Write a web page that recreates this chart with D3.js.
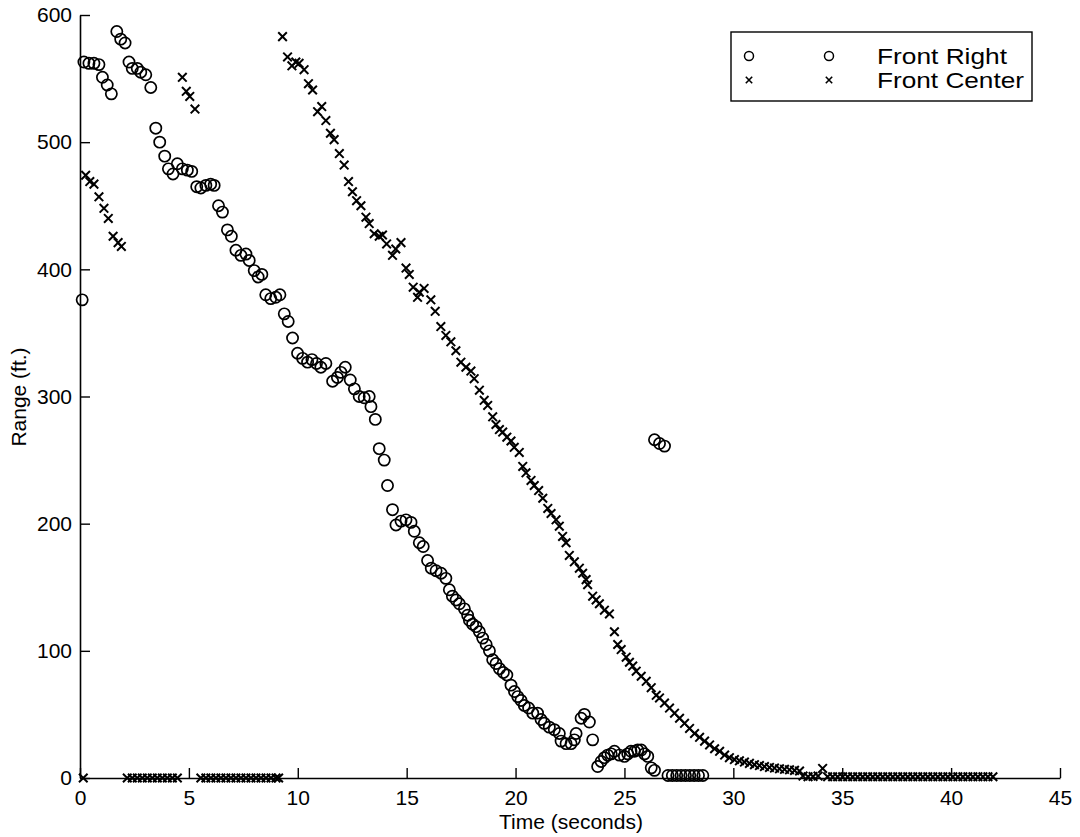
<!DOCTYPE html>
<html>
<head>
<meta charset="utf-8">
<script src="https://cdn.jsdelivr.net/npm/d3@7"></script>
<style>
  html, body { margin: 0; padding: 0; background: #fff; }
  svg { display: block; }
  text { font-family: "Liberation Sans", Arial, Helvetica, sans-serif; fill: #000; }
</style>
</head>
<body>
<svg id="chart" width="1080" height="837"></svg>
<script>
// ---------- data ----------
const seriesNames = ["Front Right", "Front Center"];

const frontRightTime = [
  0.1, 0.18, 0.41, 0.64, 0.87, 1.03, 1.25, 1.44, 1.69, 1.87, 2.07, 2.25, 2.4, 2.63, 2.79, 3.02, 3.25,
  3.48, 3.66, 3.89, 4.06, 4.27, 4.47, 4.7, 4.93, 5.13, 5.36, 5.55, 5.78, 6.0, 6.16, 6.36, 6.54,
  6.77, 6.95, 7.16, 7.39, 7.62, 7.77, 8.0, 8.18, 8.35, 8.53, 8.76, 8.99, 9.18, 9.38, 9.56, 9.76,
  9.99, 10.22, 10.45, 10.65, 10.86, 11.06, 11.29, 11.6, 11.82, 11.98, 12.18, 12.41, 12.6, 12.82,
  13.05, 13.28, 13.36, 13.56, 13.74, 13.97, 14.12, 14.35, 14.51, 14.74, 14.97, 15.2, 15.35, 15.58,
  15.76, 15.96, 16.13, 16.35, 16.58, 16.8, 16.96, 17.1, 17.27, 17.42, 17.65, 17.8, 17.88, 18.03,
  18.19, 18.34, 18.49, 18.65, 18.8, 18.95, 19.1, 19.26, 19.44, 19.6, 19.79, 19.95, 20.1, 20.25,
  20.4, 20.6, 20.79, 21.01, 21.17, 21.32, 21.55, 21.78, 22.01, 22.09, 22.32, 22.55, 22.7, 22.78,
  23.01, 23.16, 23.39, 23.54, 23.77, 23.93, 24.08, 24.23, 24.39, 24.54, 24.77, 25.0, 25.15, 25.3,
  25.46, 25.61, 25.77, 25.92, 26.07, 26.23, 26.38, 26.38, 26.61, 26.84,
  27.0, 27.2, 27.4, 27.6, 27.8, 28.0, 28.2, 28.4, 28.6
];
const frontRightRange = [
  376, 563, 562, 562, 561, 551, 545, 538, 587, 581, 578, 563, 558, 558, 555, 553, 543,
  511, 500, 489, 479, 475, 483, 479, 478, 477, 465, 464, 466, 467, 466, 450, 445,
  431, 426, 415, 411, 412, 407, 399, 394, 396, 380, 377, 378, 380, 365, 359, 346,
  334, 330, 327, 329, 326, 323, 326, 312, 315, 319, 323, 313, 306, 300,
  299, 300, 292, 282, 259, 250, 230, 211, 199, 202, 203, 201, 194, 185,
  182, 171, 165, 163, 161, 157, 148, 143, 140, 137, 133, 128, 124, 121,
  119, 115, 110, 105, 100, 93, 90, 86, 83, 81, 73, 68, 64, 61,
  57, 55, 51, 51, 46, 43, 40, 38, 35, 29, 27, 27, 30, 35,
  47, 50, 44, 30, 9, 13, 16, 18, 19, 21, 18, 17, 19, 21,
  21, 22, 22, 19, 17, 8, 6, 266, 263, 261,
  2, 2, 2, 2, 2, 2, 2, 2, 2
];

const frontCenterTime = [
  0.15, 0.26, 0.45, 0.64, 0.87, 1.1, 1.3, 1.52, 1.75, 1.9,
  2.17, 2.4, 2.63, 2.86, 3.09, 3.32, 3.55, 3.78, 4.01, 4.24, 4.47,
  4.7, 4.88, 5.04, 5.28,
  5.55, 5.78, 6.01, 6.24, 6.47, 6.7, 6.93, 7.16, 7.39, 7.62, 7.85, 8.08, 8.31, 8.54, 8.77, 9.0, 9.12,
  9.3, 9.53, 9.73, 9.91, 10.06, 10.29, 10.49, 10.68, 10.91, 11.1, 11.29, 11.5, 11.67, 11.91, 12.13,
  12.33, 12.51, 12.7, 12.9, 13.13, 13.28, 13.51, 13.74, 13.89, 14.08, 14.35, 14.5, 14.74, 14.97,
  15.12, 15.3, 15.5, 15.58, 15.8, 16.11, 16.31, 16.57, 16.8, 17.03, 17.26, 17.49, 17.72, 17.95,
  18.1, 18.34, 18.56, 18.72, 18.95, 19.1, 19.26, 19.41, 19.6, 19.79, 19.94, 20.17, 20.33, 20.48,
  20.71, 20.86, 21.06, 21.25, 21.48, 21.63, 21.86, 22.01, 22.16, 22.32, 22.47, 22.7, 22.93, 23.08,
  23.24, 23.31, 23.54, 23.7, 23.85, 24.08, 24.31, 24.54, 24.69, 24.85, 25.08, 25.23, 25.38, 25.54,
  25.77, 26.0, 26.23, 26.46, 26.61, 26.84, 27.07, 27.3, 27.53, 27.76, 27.99, 28.22, 28.45, 28.68,
  28.91, 29.14, 29.37, 29.6, 29.82, 30.05, 30.28, 30.51, 30.74, 30.97, 31.2, 31.43, 31.66, 31.89,
  32.12, 32.35, 32.58, 32.81, 33.04,
  33.2, 33.43, 33.66, 33.89, 34.1,
  34.33, 34.56, 34.79, 35.02, 35.25, 35.48, 35.71, 35.94, 36.17, 36.4, 36.63, 36.86, 37.09, 37.32,
  37.55, 37.78, 38.01, 38.24, 38.47, 38.7, 38.93, 39.16, 39.39, 39.62, 39.85, 40.08, 40.31, 40.54,
  40.77, 41.0, 41.23, 41.46, 41.69, 41.92
];
const frontCenterRange = [
  0, 474, 469, 467, 457, 448, 440, 426, 421, 418,
  0, 0, 0, 0, 0, 0, 0, 0, 0, 0, 0,
  551, 540, 536, 526,
  0, 0, 0, 0, 0, 0, 0, 0, 0, 0, 0, 0, 0, 0, 0, 0, 0,
  583, 567, 560, 563, 562, 557, 546, 541, 524, 528, 517, 507, 502, 491, 482,
  469, 461, 454, 450, 441, 436, 428, 426, 427, 420, 411, 416, 421, 401,
  396, 386, 378, 382, 385, 376, 367, 355, 348, 343, 336, 327, 323, 320,
  314, 305, 297, 293, 284, 278, 274, 272, 268, 265, 260, 256, 245, 240,
  234, 230, 226, 220, 212, 208, 203, 198, 190, 185, 175, 170, 165, 161,
  156, 152, 143, 140, 137, 132, 129, 115, 105, 101, 95, 91, 88, 84,
  80, 76, 71, 65, 63, 59, 55, 51, 47, 43, 39, 35, 32, 29,
  26, 23, 21, 18, 16, 14.5, 13.5, 12.5, 11.5, 10.5, 9.8, 9, 8.3, 7.8,
  7.2, 6.8, 6.4, 6, 5.5,
  1.5, 1, 1.2, 1.5, 7.5,
  1, 1, 1, 1, 1, 1, 1, 1, 1, 1, 1, 1, 1, 1,
  1, 1, 1, 1, 1, 1, 1, 1, 1, 1, 1, 1, 1, 1,
  1, 1, 1, 1, 1, 1
];

const xTicks = [0, 5, 10, 15, 20, 25, 30, 35, 40, 45];
const yTicks = [0, 100, 200, 300, 400, 500, 600];
const xLabel = "Time (seconds)";
const yLabel = "Range (ft.)";

// ---------- chart ----------
const svg = d3.select("#chart");
const x = d3.scaleLinear().domain([0, 45]).range([80, 1060]);
const y = d3.scaleLinear().domain([0, 600]).range([778, 15]);

const xAxis = d3.axisBottom(x).tickValues(xTicks).tickSizeInner(-10).tickSizeOuter(0).tickPadding(12);
const yAxis = d3.axisLeft(y).tickValues(yTicks).tickSizeInner(-10).tickSizeOuter(0).tickPadding(8);

const gx = svg.append("g").attr("transform", `translate(0,${y(0)})`).call(xAxis);
const gy = svg.append("g").attr("transform", `translate(${x(0)},0)`).call(yAxis);
[gx, gy].forEach(g => {
  g.select(".domain").attr("stroke", "#000").attr("stroke-width", 1.6);
  g.selectAll(".tick line").attr("stroke", "#000").attr("stroke-width", 1.4);
  g.selectAll(".tick text").style("font-size", "21px").attr("fill", "#000");
});

svg.append("text").attr("x", 571).attr("y", 829).attr("text-anchor", "middle")
  .style("font-size", "21px").text(xLabel);
svg.append("text").attr("transform", "translate(26,397) rotate(-90)").attr("text-anchor", "middle")
  .style("font-size", "21px").text(yLabel);

const frData = frontRightTime.map((t, i) => ({ t, r: frontRightRange[i] }));
const fcData = frontCenterTime.map((t, i) => ({ t, r: frontCenterRange[i] }));

svg.append("g").selectAll("circle").data(frData).join("circle")
  .attr("cx", d => x(d.t)).attr("cy", d => y(d.r)).attr("r", 5.6)
  .attr("fill", "none").attr("stroke", "#000").attr("stroke-width", 1.7);

const cs = 4.3;
svg.append("g").selectAll("path").data(fcData).join("path")
  .attr("d", d => {
    const cx = x(d.t), cy = y(d.r);
    return `M${cx - cs},${cy - cs}L${cx + cs},${cy + cs}M${cx - cs},${cy + cs}L${cx + cs},${cy - cs}`;
  })
  .attr("fill", "none").attr("stroke", "#000").attr("stroke-width", 2);

// ---------- legend ----------
const lg = svg.append("g");
lg.append("rect").attr("x", 731).attr("y", 32).attr("width", 301).attr("height", 69)
  .attr("fill", "#fff").attr("stroke", "#000").attr("stroke-width", 1.4);
const rows = [56, 80];
[749, 829].forEach(cx => {
  lg.append("circle").attr("cx", cx).attr("cy", rows[0]).attr("r", 4.5)
    .attr("fill", "none").attr("stroke", "#000").attr("stroke-width", 1.5);
  const s = 3.2, cy = rows[1];
  lg.append("path").attr("d", `M${cx - s},${cy - s}L${cx + s},${cy + s}M${cx - s},${cy + s}L${cx + s},${cy - s}`)
    .attr("stroke", "#000").attr("stroke-width", 1.6);
});
const legendWidths = [130, 147];
seriesNames.forEach((name, i) => {
  lg.append("text").attr("x", 877).attr("y", rows[i] + 8)
    .style("font-size", "22px")
    .attr("textLength", legendWidths[i]).attr("lengthAdjust", "spacingAndGlyphs")
    .text(name);
});
</script>
</body>
</html>
